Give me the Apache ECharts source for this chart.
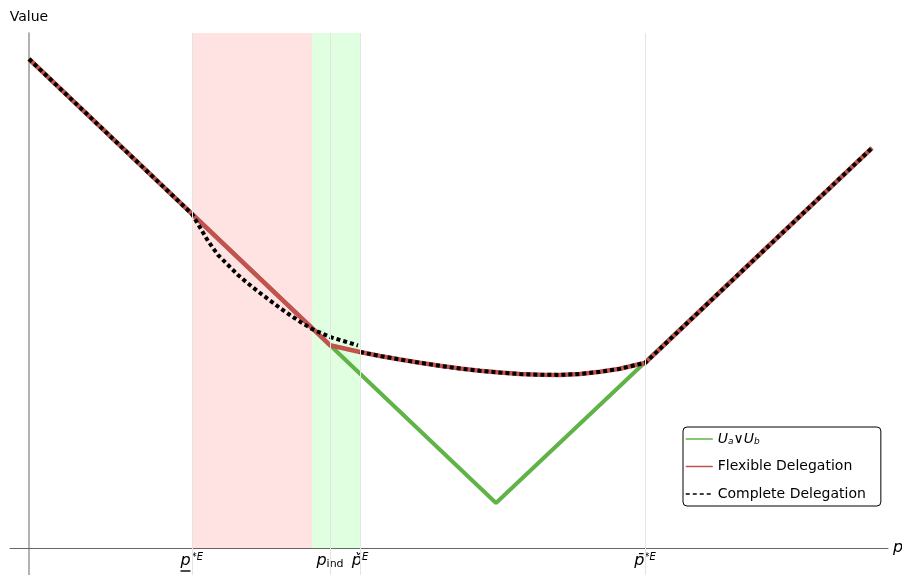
<!DOCTYPE html>
<html>
<head>
<meta charset="utf-8">
<script src="https://cdn.jsdelivr.net/npm/echarts@6/dist/echarts.min.js"></script>
<style>html,body{margin:0;padding:0;background:#fff}#c{width:902px;height:575px}</style>
</head>
<body>
<div id="c"></div>
<script>
// ---- data (x = p, y = value) ----
const xTicks = [1.63, 3.01, 3.31, 6.16];
const xTickLabels = [
  '{u|p}{sup|*E}\n{bar| }{gap| }',
  '{p|p}{sub|ind}',
  '{p|p\u030C}{sup|E}',
  '{p|p\u0304}{sup|*E}'
];
const legendNames = ['U_a∨U_b', 'Flexible Delegation', 'Complete Delegation'];

const greenUaUb = [[0, 4.89], [4.67, 0.45], [8.43, 4.00]];

const flexible = [
  [0, 4.89], [3.01, 2.028], [3.31, 1.96], [3.51, 1.92], [3.71, 1.885], [3.91, 1.852],
  [4.11, 1.822], [4.31, 1.795], [4.51, 1.772], [4.71, 1.754], [4.91, 1.74], [5.11, 1.732],
  [5.31, 1.731], [5.51, 1.74], [5.71, 1.762], [5.91, 1.793], [6.11, 1.84], [6.16, 1.85],
  [8.43, 4.00]
];

const completeA = [
  [0, 4.89], [1.63, 3.34], [1.69, 3.24], [1.79, 3.07], [1.89, 2.93], [1.99, 2.83],
  [2.09, 2.73], [2.19, 2.645], [2.29, 2.565], [2.41, 2.475], [2.51, 2.40], [2.61, 2.33],
  [2.71, 2.263], [2.83, 2.19], [3.01, 2.11], [3.16, 2.065], [3.29, 2.025]
];
const completeB = [
  [3.31, 1.96], [3.51, 1.92], [3.71, 1.885], [3.91, 1.852], [4.11, 1.822], [4.31, 1.795],
  [4.51, 1.772], [4.71, 1.754], [4.91, 1.74], [5.11, 1.732], [5.31, 1.731], [5.51, 1.74],
  [5.71, 1.762], [5.91, 1.793], [6.11, 1.84], [6.16, 1.85], [8.43, 4.00]
];

const pinkRange = [1.63, 2.83];
const greenRange = [2.83, 3.31];
const guideLines = [1.63, 3.01, 3.31, 6.16];

// ---- chart ----
const FONT = 'DejaVu Sans';
const chart = echarts.init(document.getElementById('c'), null, {renderer: 'canvas'});

function tickLabel(v) {
  for (let i = 0; i < xTicks.length; i++) if (Math.abs(xTicks[i] - v) < 1e-6) return xTickLabels[i];
  return '';
}

const X_MIN = -0.19, X_MAX = 8.59;

const option = {
  animation: false,
  backgroundColor: '#fff',
  grid: [
    {left: 10, right: 14, top: 33, bottom: 0, outerBoundsMode: 'none'},
    {left: 10, right: 14, top: 33, bottom: 27, outerBoundsMode: 'none'}
  ],
  xAxis: [
    {
      type: 'value', min: X_MIN, max: X_MAX, gridIndex: 0,
      name: 'p', nameLocation: 'end', nameGap: 5,
      nameTextStyle: {fontFamily: FONT, fontSize: 16, fontStyle: 'italic', color: '#000'},
      axisLine: {show: true, onZero: true, lineStyle: {color: '#666', width: 1}},
      axisTick: {show: false},
      splitLine: {show: false},
      axisLabel: {show: false}
    },
    {
      type: 'value', min: X_MIN, max: X_MAX, gridIndex: 1,
      axisLine: {show: false, onZero: false},
      axisTick: {show: false},
      splitLine: {show: false},
      axisLabel: {
        show: true, customValues: xTicks, margin: 4, hideOverlap: false,
        formatter: tickLabel,
        rich: {
          p: {fontFamily: FONT, fontSize: 16, fontStyle: 'italic', color: '#000', lineHeight: 18},
          u: {fontFamily: FONT, fontSize: 16, fontStyle: 'italic', color: '#000', lineHeight: 18, width: 11, align: 'left'},
          sup: {fontFamily: FONT, fontSize: 10, fontStyle: 'italic', color: '#000', lineHeight: 10, verticalAlign: 'top'},
          sub: {fontFamily: FONT, fontSize: 11, color: '#000', lineHeight: 10, verticalAlign: 'bottom'},
          bar: {fontSize: 2, lineHeight: 2, height: 1.4, width: 10, backgroundColor: '#000', align: 'left'},
          gap: {fontSize: 2, lineHeight: 2, height: 1.4, width: 13, align: 'left'}
        }
      }
    }
  ],
  yAxis: [
    {
      type: 'value', min: -0.27, max: 5.15, gridIndex: 0,
      name: 'Value', nameLocation: 'end', nameGap: 9,
      nameTextStyle: {fontFamily: FONT, fontSize: 14, color: '#000', align: 'center'},
      axisLine: {show: true, onZero: true, lineStyle: {color: '#999', width: 1.5}},
      axisTick: {show: false},
      axisLabel: {show: false},
      splitLine: {show: false}
    },
    {
      type: 'value', min: 0, max: 5.15, gridIndex: 1, show: false
    }
  ],
  legend: {
    data: legendNames,
    orient: 'vertical',
    left: 683, top: 427,
    padding: [5, 15, 5, 2],
    itemWidth: 27, itemHeight: 14, itemGap: 13.5,
    backgroundColor: '#fff',
    borderColor: '#000', borderWidth: 1, borderRadius: 4,
    lineStyle: {width: 1.5},
    itemStyle: {opacity: 0},
    textStyle: {
      fontFamily: FONT, fontSize: 14, color: '#000', lineHeight: 14,
      rich: {
        i: {fontFamily: FONT, fontSize: 14, fontStyle: 'italic', color: '#000', lineHeight: 14},
        s: {fontFamily: FONT, fontSize: 9, fontStyle: 'italic', color: '#000', lineHeight: 8, verticalAlign: 'bottom'},
        n: {fontFamily: FONT, fontSize: 14, color: '#000', lineHeight: 14}
      }
    },
    formatter: function (name) {
      if (name === legendNames[0]) return '{i|U}{s|a}{n|∨}{i|U}{s|b}';
      return name;
    }
  },
  series: [
    {
      name: legendNames[0], type: 'line', z: 2, data: greenUaUb,
      showSymbol: false, symbol: 'none', silent: true,
      lineStyle: {color: '#5fb347', width: 4},
      itemStyle: {color: '#5fb347'}
    },
    {
      name: legendNames[1], type: 'line', z: 3, data: flexible,
      showSymbol: false, symbol: 'none', silent: true,
      lineStyle: {color: '#c1524d', width: 4.5},
      itemStyle: {color: '#c1524d'}
    },
    {
      name: legendNames[2], type: 'line', z: 4, data: completeA,
      showSymbol: false, symbol: 'none', silent: true,
      lineStyle: {color: '#000', width: 4, type: [4, 3]},
      itemStyle: {color: '#000'}
    },
    {
      name: legendNames[2], type: 'line', z: 4, data: completeB,
      showSymbol: false, symbol: 'none', silent: true,
      lineStyle: {color: '#000', width: 4, type: [4, 3]},
      itemStyle: {color: '#000'}
    },
    {
      name: 'overlay', type: 'line', z: 5, data: [], silent: true,
      markLine: {
        silent: true, symbol: ['none', 'none'], label: {show: false},
        lineStyle: {color: '#e4e4e4', width: 1, type: 'solid'},
        data: guideLines.map(v => ({xAxis: v}))
      },
      markArea: {
        silent: true,
        data: [
          [{xAxis: pinkRange[0], yAxis: -0.005, itemStyle: {color: 'rgba(255,0,0,0.115)'}}, {xAxis: pinkRange[1], yAxis: 5.15}],
          [{xAxis: greenRange[0], yAxis: -0.005, itemStyle: {color: 'rgba(0,255,0,0.12)'}}, {xAxis: greenRange[1], yAxis: 5.15}]
        ]
      }
    }
  ]
};
chart.setOption(option);
</script>
</body>
</html>
